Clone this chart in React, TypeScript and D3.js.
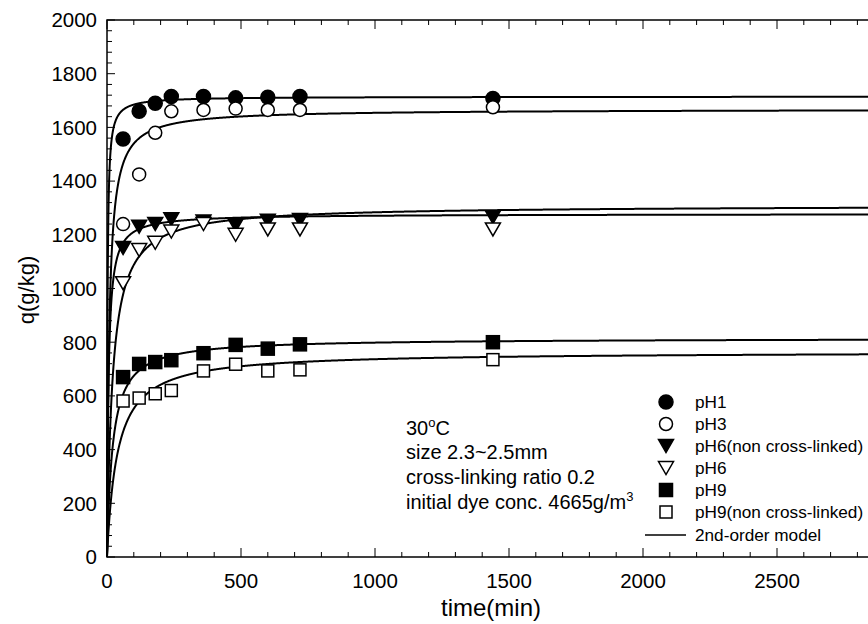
import React, { useEffect, useRef } from "react";
import * as d3 from "d3";

// sampling times (min)
const times = [60, 120, 180, 240, 360, 480, 600, 720, 1440];

// measured uptake q (g/kg)
const pH1 = [1557, 1660, 1690, 1715, 1715, 1710, 1712, 1715, 1708];
const pH3 = [1240, 1425, 1580, 1660, 1665, 1670, 1665, 1665, 1675];
const pH6nc = [1151, 1230, 1240, 1258, 1250, 1236, 1252, 1255, 1265];
const pH6 = [1020, 1143, 1170, 1212, 1240, 1200, 1220, 1220, 1220];
const pH9 = [670, 719, 726, 733, 759, 790, 776, 792, 800];
const pH9nc = [581, 592, 608, 620, 693, 718, 693, 697, 735];

// 2nd-order model parameters (qe in g/kg, k in kg/(g*min))
const seriesNames = ["pH1", "pH3", "pH6(non cross-linked)", "pH6", "pH9", "pH9(non cross-linked)"];
const seriesValues = [pH1, pH3, pH6nc, pH6, pH9, pH9nc];
const seriesShapes = ["circle", "circle", "triangle", "triangle", "square", "square"];
const seriesFilled = [true, false, true, false, true, false];
const modelQe = [1715, 1668, 1278, 1310, 815, 765];
const modelK = [3.27e-4, 7.2e-5, 1.41e-4, 3.74e-5, 5.9e-5, 3.4e-5];

const xTicks = [0, 500, 1000, 1500, 2000, 2500];
const yTicks = [0, 200, 400, 600, 800, 1000, 1200, 1400, 1600, 1800, 2000];

const notes = ["size 2.3~2.5mm", "cross-linking ratio 0.2"];

function App() {
  const ref = useRef<SVGSVGElement>(null);

  useEffect(() => {
    const svg = d3.select(ref.current);
    svg.selectAll("*").remove();

    const left = 107, right = 911, top = 20, bottom = 557;
    const font = "Liberation Sans, Arial, sans-serif";

    const x = d3.scaleLinear().domain([0, 3000]).range([left, right]);
    const y = d3.scaleLinear().domain([0, 2000]).range([bottom, top]);

    const g = svg.append("g");

    // frame
    g.append("rect")
      .attr("x", left).attr("y", top)
      .attr("width", right - left).attr("height", bottom - top)
      .attr("fill", "none").attr("stroke", "#000").attr("stroke-width", 1.5);

    // ticks (inward)
    d3.range(0, 3001, 100).forEach((v) => {
      const len = v % 500 === 0 ? 9 : 5;
      g.append("line").attr("x1", x(v)).attr("x2", x(v)).attr("y1", bottom).attr("y2", bottom - len)
        .attr("stroke", "#000").attr("stroke-width", 1);
      g.append("line").attr("x1", x(v)).attr("x2", x(v)).attr("y1", top).attr("y2", top + len)
        .attr("stroke", "#000").attr("stroke-width", 1);
    });
    d3.range(0, 2001, 40).forEach((v) => {
      const len = v % 200 === 0 ? 8 : 5;
      g.append("line").attr("x1", left).attr("x2", left + len).attr("y1", y(v)).attr("y2", y(v))
        .attr("stroke", "#000").attr("stroke-width", 1);
    });

    // tick labels
    g.selectAll(".xt").data(xTicks).join("text")
      .attr("x", (d) => x(d)).attr("y", 588)
      .attr("text-anchor", "middle").attr("font-family", font).attr("font-size", 20.5)
      .text((d) => d);
    g.selectAll(".yt").data(yTicks).join("text")
      .attr("x", 97).attr("y", (d) => y(d)).attr("dy", "0.36em")
      .attr("text-anchor", "end").attr("font-family", font).attr("font-size", 20.5)
      .text((d) => d);

    // axis titles
    g.append("text").attr("x", 491).attr("y", 616).attr("text-anchor", "middle")
      .attr("font-family", font).attr("font-size", 24).text("time(min)");
    g.append("text").attr("transform", "translate(34,290) rotate(-90)").attr("text-anchor", "middle")
      .attr("font-family", font).attr("font-size", 22).text("q(g/kg)");

    // model curves
    const tSamples = d3.range(0, 3001, 1);
    const line = d3.line<number>().x((t) => x(t));
    modelQe.forEach((qe, i) => {
      const k = modelK[i];
      line.y((t) => y((qe * qe * k * t) / (1 + qe * k * t)));
      g.append("path").attr("d", line(tSamples)).attr("fill", "none")
        .attr("stroke", "#000").attr("stroke-width", 2);
    });

    // markers
    const drawMarker = (sel: any, shape: string, filled: boolean, cx: number, cy: number) => {
      const fill = filled ? "#000" : "#fff";
      if (shape === "circle") {
        sel.append("circle").attr("cx", cx).attr("cy", cy).attr("r", filled ? 7 : 6.5)
          .attr("fill", fill).attr("stroke", "#000").attr("stroke-width", 1.5);
      } else if (shape === "square") {
        const s = filled ? 13 : 12;
        sel.append("rect").attr("x", cx - s / 2).attr("y", cy - s / 2).attr("width", s).attr("height", s)
          .attr("fill", fill).attr("stroke", "#000").attr("stroke-width", 1.5);
      } else {
        const w = 7.5, h = 13;
        sel.append("path")
          .attr("d", `M${cx - w},${cy - h / 2}L${cx + w},${cy - h / 2}L${cx},${cy + h / 2}Z`)
          .attr("fill", fill).attr("stroke", "#000").attr("stroke-width", 1.5);
      }
    };

    seriesValues.forEach((vals, i) => {
      vals.forEach((v, j) => drawMarker(g, seriesShapes[i], seriesFilled[i], x(times[j]), y(v)));
    });

    // legend
    const legY = [402, 424, 446, 468, 490, 512];
    seriesNames.forEach((name, i) => {
      drawMarker(g, seriesShapes[i], seriesFilled[i], 666, legY[i]);
      g.append("text").attr("x", 695).attr("y", legY[i]).attr("dy", "0.36em")
        .attr("font-family", font).attr("font-size", 17.2).text(name);
    });
    g.append("line").attr("x1", 645).attr("x2", 686).attr("y1", 535).attr("y2", 535)
      .attr("stroke", "#000").attr("stroke-width", 1.5);
    g.append("text").attr("x", 695).attr("y", 535).attr("dy", "0.36em")
      .attr("font-family", font).attr("font-size", 17.2).text("2nd-order model");

    // annotation
    const fs = 20;
    const t1 = g.append("text").attr("x", 406).attr("y", 435)
      .attr("font-family", font).attr("font-size", fs);
    t1.append("tspan").text("30");
    t1.append("tspan").attr("font-size", 13).attr("dy", -8).text("o");
    t1.append("tspan").attr("dy", 8).text("C");
    notes.forEach((s, i) => {
      g.append("text").attr("x", 406).attr("y", 459 + i * 25)
        .attr("font-family", font).attr("font-size", fs).text(s);
    });
    const t4 = g.append("text").attr("x", 406).attr("y", 509)
      .attr("font-family", font).attr("font-size", fs);
    t4.append("tspan").text("initial dye conc. 4665g/m");
    t4.append("tspan").attr("font-size", 13).attr("dy", -8).text("3");
  }, []);

  return (
    <svg
      ref={ref}
      width={868}
      height={624}
      style={{ position: "absolute", left: 0, top: 0, background: "#fff" }}
    />
  );
}

export default App;
